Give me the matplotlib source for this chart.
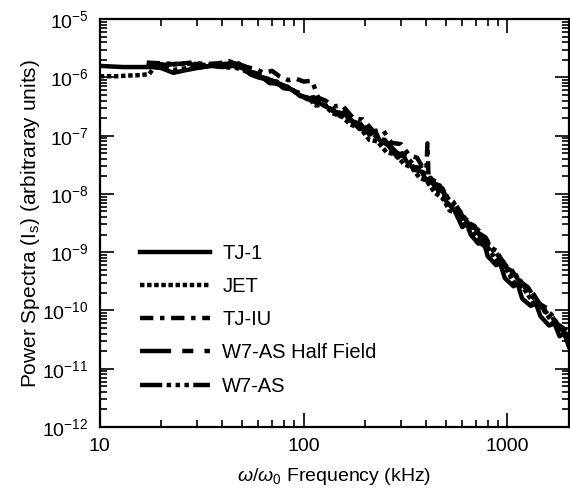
import numpy as np
from matplotlib import pyplot as plt
from matplotlib.ticker import LogLocator, NullFormatter, FixedLocator, FixedFormatter

plt.rcParams['font.family'] = ['Liberation Sans', 'DejaVu Sans']
plt.rcParams['mathtext.fontset'] = 'custom'
plt.rcParams['mathtext.rm'] = 'Liberation Sans'
plt.rcParams['mathtext.it'] = 'Liberation Sans:italic'

# TJ-1 (solid)
f_tj1 = [10, 13, 16, 18, 20, 23, 26, 30, 35, 40, 45, 50, 55, 60, 64, 68, 75, 80, 85, 95, 105,
         112, 120, 135, 150, 160, 170, 190, 210, 225, 235, 260, 290, 305, 320, 350, 380, 400,
         420, 460, 480, 500, 550, 600, 630, 660, 720, 760, 800, 880, 920, 970, 1070, 1120,
         1180, 1300, 1380, 1450, 1600, 1700, 1800, 1900, 2000]
p_tj1 = [1.58e-6, 1.51e-6, 1.51e-6, 1.51e-6, 1.45e-6, 1.2e-6, 1.32e-6, 1.45e-6, 1.58e-6, 1.51e-6,
         1.58e-6, 1.45e-6, 1.12e-6, 1.0e-6, 9.5e-7, 8.0e-7, 7.8e-7, 6.5e-7, 6.6e-7, 5.0e-7, 4.2e-7,
         4.6e-7, 3.6e-7, 2.9e-7, 2.3e-7, 2.6e-7, 1.8e-7, 1.6e-7, 1.05e-7, 1.2e-7, 8.5e-8, 6.8e-8,
         4.2e-8, 5.0e-8, 3.6e-8, 2.6e-8, 2.4e-8, 1.7e-8, 1.9e-8, 1.1e-8, 1.25e-8, 7.5e-9, 5.2e-9,
         2.7e-9, 3.3e-9, 2.0e-9, 1.4e-9, 1.6e-9, 8.5e-10, 6.0e-10, 6.5e-10, 3.6e-10, 2.6e-10,
         2.9e-10, 1.6e-10, 1.2e-10, 1.3e-10, 8.0e-11, 5.5e-11, 6.0e-11, 3.6e-11, 4.0e-11, 2.4e-11]

# JET (dotted)
f_jet = [10, 12, 14, 16, 17.5, 19, 22, 25, 28, 32, 36, 40, 44, 48, 52, 57, 62, 68, 74, 80,
         88, 96, 105, 115, 125, 140, 155, 170, 190, 210, 230, 255, 280, 310, 340, 370, 400,
         440, 480, 520, 570, 620, 680, 740, 810, 890, 980, 1080, 1200, 1330, 1480, 1650, 1850, 2000]
p_jet = [1.05e-6, 1.05e-6, 1.08e-6, 1.1e-6, 1.15e-6, 1.7e-6, 1.65e-6, 1.7e-6, 1.75e-6, 1.65e-6,
         1.6e-6, 1.7e-6, 1.6e-6, 1.75e-6, 1.4e-6, 1.15e-6, 1.0e-6, 9.0e-7, 8.5e-7, 6.5e-7,
         6.3e-7, 4.8e-7, 4.5e-7, 3.3e-7, 3.4e-7, 2.4e-7, 2.1e-7, 1.55e-7, 1.35e-7, 8.5e-8,
         8.0e-8, 5.2e-8, 4.8e-8, 3.3e-8, 2.8e-8, 1.9e-8, 1.7e-8, 1.05e-8, 8.5e-9, 5.2e-9,
         4.5e-9, 2.6e-9, 2.3e-9, 1.4e-9, 1.15e-9, 6.8e-10, 5.2e-10, 3.0e-10, 2.4e-10, 1.4e-10,
         1.1e-10, 6.5e-11, 5.0e-11, 3.0e-11]

# TJ-IU (dash-dot)
f_tjiu = [17, 20, 24, 28, 33, 38, 43, 48, 53, 58, 64, 70, 76, 84, 92, 100, 110, 118, 128, 140,
          155, 175, 195, 220, 245, 270, 300, 330, 360, 385, 400, 405, 410, 450, 490, 540, 590,
          650, 710, 780, 860, 950, 1050, 1160, 1280, 1420, 1580, 1760, 1950]
p_tjiu = [1.8e-6, 1.75e-6, 1.7e-6, 1.8e-6, 1.7e-6, 1.75e-6, 1.9e-6, 1.7e-6, 1.5e-6, 1.4e-6,
          1.2e-6, 1.3e-6, 1.05e-6, 9.0e-7, 9.5e-7, 8.5e-7, 8.8e-7, 4.5e-7, 4.0e-7, 3.2e-7,
          3.3e-7, 2.0e-7, 1.9e-7, 1.2e-7, 1.25e-7, 7.5e-8, 7.2e-8, 4.6e-8, 4.2e-8, 2.8e-8,
          2.7e-8, 7.4e-8, 1.9e-8, 1.6e-8, 1.0e-8, 7.5e-9, 4.4e-9, 3.3e-9, 2.2e-9, 1.8e-9,
          1.0e-9, 7.0e-10, 4.2e-10, 3.2e-10, 1.9e-10, 1.4e-10, 8.5e-11, 6.2e-11, 3.6e-11]

# W7-AS Half Field (long dash - short dash)
f_half = [17, 21, 25, 30, 35, 40, 46, 52, 58, 65, 72, 80, 90, 100, 112, 125, 140, 158, 178, 200,
          225, 250, 280, 310, 345, 380, 420, 465, 510, 560, 620, 690, 760, 840, 930, 1030, 1140,
          1260, 1400, 1560, 1740, 1950]
p_half = [1.7e-6, 1.65e-6, 1.75e-6, 1.65e-6, 1.6e-6, 1.7e-6, 1.75e-6, 1.3e-6, 1.2e-6, 1.0e-6,
          8.5e-7, 7.3e-7, 5.8e-7, 5.2e-7, 4.2e-7, 3.7e-7, 2.6e-7, 2.4e-7, 1.6e-7, 1.4e-7,
          9.0e-8, 8.5e-8, 5.0e-8, 4.8e-8, 2.9e-8, 2.8e-8, 1.6e-8, 1.4e-8, 8.0e-9, 6.4e-9,
          3.5e-9, 2.8e-9, 1.5e-9, 1.3e-9, 7.2e-10, 5.4e-10, 3.2e-10, 2.5e-10, 1.35e-10, 1.1e-10,
          6.0e-11, 4.5e-11]

# W7-AS (dash-dot-dot)
f_w7 = [17, 20, 23, 27, 31, 36, 41, 47, 53, 60, 67, 75, 85, 95, 108, 120, 135, 150, 168, 188,
        210, 235, 262, 292, 325, 360, 400, 440, 485, 535, 590, 650, 720, 800, 885, 980, 1085,
        1200, 1330, 1480, 1640, 1820, 2000]
p_w7 = [1.6e-6, 1.5e-6, 1.35e-6, 1.45e-6, 1.5e-6, 1.6e-6, 1.5e-6, 1.45e-6, 1.25e-6, 1.05e-6,
        9.5e-7, 7.6e-7, 6.8e-7, 5.0e-7, 4.3e-7, 3.3e-7, 3.2e-7, 2.2e-7, 2.0e-7, 1.3e-7,
        1.3e-7, 8.2e-8, 7.0e-8, 4.8e-8, 4.1e-8, 2.7e-8, 2.2e-8, 1.35e-8, 1.15e-8, 6.4e-9,
        4.9e-9, 2.9e-9, 2.4e-9, 1.3e-9, 1.05e-9, 5.5e-10, 4.4e-10, 2.5e-10, 2.0e-10, 1.1e-10,
        8.6e-11, 4.8e-11, 3.8e-11]

fig = plt.figure(figsize=(5.70, 4.93), dpi=100)
ax = fig.add_axes([0.175, 0.134, 0.823, 0.827])

lw = 3.2
ax.plot(f_tj1, p_tj1, color='black', lw=lw, ls='-', label='TJ-1')
ax.plot(f_jet, p_jet, color='black', lw=lw, ls=(0, (1, 0.6)), label='JET')
ax.plot(f_tjiu, p_tjiu, color='black', lw=lw, ls=(0, (3, 1.5, 1, 1.5)), label='TJ-IU')
ax.plot(f_half, p_half, color='black', lw=lw, ls=(0, (7, 2.5, 2.5, 2.5)), label='W7-AS Half Field')
ax.plot(f_w7, p_w7, color='black', lw=lw, ls=(0, (5, 1, 1, 1, 1, 1, 1, 1)), label='W7-AS')

ax.set_xscale('log')
ax.set_yscale('log')
ax.set_xlim(10, 2000)
ax.set_ylim(1e-12, 1e-5)

ax.xaxis.set_major_locator(FixedLocator([10, 100, 1000]))
ax.xaxis.set_major_formatter(FixedFormatter(['10', '100', '1000']))
ax.xaxis.set_minor_locator(LogLocator(base=10, subs=np.arange(2, 10), numticks=20))
ax.xaxis.set_minor_formatter(NullFormatter())
ax.yaxis.set_major_locator(LogLocator(base=10, numticks=20))
ax.yaxis.set_minor_locator(LogLocator(base=10, subs=np.arange(2, 10), numticks=20))
ax.yaxis.set_minor_formatter(NullFormatter())

ax.tick_params(which='both', direction='in', top=True, right=True, labelsize=14, width=1.2)
ax.tick_params(which='major', length=10, pad=8)
ax.tick_params(which='minor', length=5)
for s in ax.spines.values():
    s.set_linewidth(1.6)

ax.set_xlabel(r'$\omega/\omega_0$ Frequency (kHz)', fontsize=14, labelpad=8)
ax.set_ylabel(r'Power Spectra (I$_\mathrm{s}$) (arbitraray units)', fontsize=15, labelpad=0)

ax.legend(loc='upper left', bbox_to_anchor=(0.068, 0.468), frameon=False, fontsize=14.5,
          handlelength=3.5, handletextpad=0.6, labelspacing=0.7, borderaxespad=0)

fig.savefig('out.png', dpi=100)
